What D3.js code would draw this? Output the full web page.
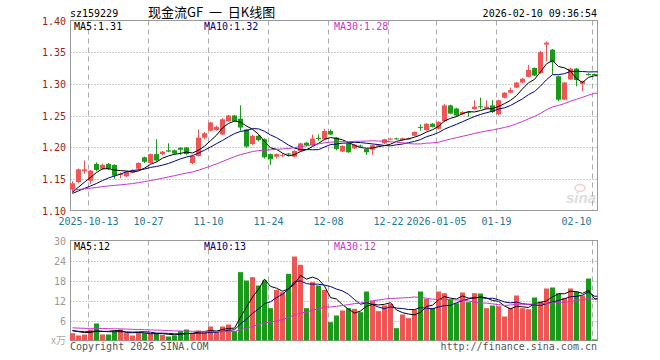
<!DOCTYPE html>
<html>
<head>
<meta charset="utf-8">
<script src="https://cdn.jsdelivr.net/npm/d3@7"></script>
<style>
body { margin: 0; background: #fff; }
svg text { font-family: "DejaVu Sans Mono", monospace; font-size: 10px; }
</style>
</head>
<body>
<svg id="chart" width="660" height="360"></svg>
<script>
// trading days shown (one candle each)
const dates = ["2025-09-30", "2025-10-09", "2025-10-10",
    "2025-10-13", "2025-10-14", "2025-10-15", "2025-10-16", "2025-10-17",
    "2025-10-20", "2025-10-21", "2025-10-22", "2025-10-23", "2025-10-24",
    "2025-10-27", "2025-10-28", "2025-10-29", "2025-10-30", "2025-10-31",
    "2025-11-03", "2025-11-04", "2025-11-05", "2025-11-06", "2025-11-07",
    "2025-11-10", "2025-11-11", "2025-11-12", "2025-11-13", "2025-11-14",
    "2025-11-17", "2025-11-18", "2025-11-19", "2025-11-20", "2025-11-21",
    "2025-11-24", "2025-11-25", "2025-11-26", "2025-11-27", "2025-11-28",
    "2025-12-01", "2025-12-02", "2025-12-03", "2025-12-04", "2025-12-05",
    "2025-12-08", "2025-12-09", "2025-12-10", "2025-12-11", "2025-12-12",
    "2025-12-15", "2025-12-16", "2025-12-17", "2025-12-18", "2025-12-19",
    "2025-12-22", "2025-12-23", "2025-12-24", "2025-12-25", "2025-12-26",
    "2025-12-29", "2025-12-30", "2025-12-31",
    "2026-01-05", "2026-01-06", "2026-01-07", "2026-01-08", "2026-01-09",
    "2026-01-12", "2026-01-13", "2026-01-14", "2026-01-15", "2026-01-16",
    "2026-01-19", "2026-01-20", "2026-01-21", "2026-01-22", "2026-01-23",
    "2026-01-26", "2026-01-27", "2026-01-28", "2026-01-29", "2026-01-30",
    "2026-02-02", "2026-02-03", "2026-02-04", "2026-02-05", "2026-02-06",
    "2026-02-09", "2026-02-10"]

const open = [1.133, 1.145, 1.162, 1.147, 1.1735, 1.166, 1.1735, 1.172, 1.156, 1.154,
    1.160, 1.166, 1.184, 1.175, 1.189, 1.189, 1.195, 1.195, 1.199, 1.1995,
    1.175, 1.186, 1.215, 1.226, 1.227, 1.220, 1.241, 1.250, 1.245, 1.228,
    1.205, 1.218, 1.2125, 1.189, 1.185, 1.187, 1.190, 1.185, 1.194, 1.207,
    1.203, 1.2145, 1.2125, 1.2255, 1.215, 1.193, 1.206, 1.198, 1.2025, 1.197,
    1.196, 1.2025, 1.206, 1.213, 1.2138, 1.2115, 1.213, 1.218, 1.232, 1.227,
    1.237, 1.229, 1.241, 1.266, 1.261, 1.252, 1.256, 1.260, 1.2645, 1.261,
    1.266, 1.252, 1.278, 1.286, 1.294, 1.302, 1.311, 1.325, 1.317, 1.362,
    1.354, 1.312, 1.275, 1.307, 1.324, 1.300, 1.3155, 1.3155]

const high = [1.146, 1.166, 1.179, 1.164, 1.176, 1.174, 1.175, 1.173, 1.160, 1.162,
    1.165, 1.176, 1.185, 1.190, 1.2125, 1.194, 1.206, 1.196, 1.200, 1.200,
    1.188, 1.228, 1.224, 1.240, 1.234, 1.246, 1.251, 1.251, 1.266, 1.229,
    1.220, 1.219, 1.214, 1.190, 1.190, 1.190, 1.191, 1.195, 1.207, 1.208,
    1.220, 1.220, 1.229, 1.228, 1.216, 1.203, 1.207, 1.205, 1.204, 1.198,
    1.204, 1.205, 1.213, 1.215, 1.215, 1.215, 1.215, 1.225, 1.236, 1.238,
    1.238, 1.241, 1.268, 1.267, 1.262, 1.257, 1.257, 1.274, 1.278, 1.274,
    1.274, 1.275, 1.287, 1.294, 1.303, 1.309, 1.330, 1.326, 1.352, 1.367,
    1.355, 1.313, 1.303, 1.325, 1.325, 1.305, 1.317, 1.316]

const low = [1.128, 1.143, 1.158, 1.142, 1.162, 1.164, 1.164, 1.150, 1.151, 1.153,
    1.159, 1.164, 1.175, 1.174, 1.177, 1.187, 1.192, 1.188, 1.188, 1.188,
    1.173, 1.185, 1.213, 1.225, 1.226, 1.219, 1.240, 1.240, 1.226, 1.199,
    1.203, 1.209, 1.182, 1.172, 1.182, 1.184, 1.186, 1.184, 1.193, 1.201,
    1.202, 1.210, 1.211, 1.219, 1.195, 1.192, 1.191, 1.197, 1.200, 1.188,
    1.188, 1.201, 1.205, 1.211, 1.212, 1.210, 1.212, 1.217, 1.226, 1.226,
    1.231, 1.228, 1.240, 1.252, 1.248, 1.251, 1.248, 1.259, 1.260, 1.260,
    1.254, 1.250, 1.277, 1.285, 1.293, 1.301, 1.310, 1.312, 1.316, 1.336,
    1.315, 1.273, 1.274, 1.306, 1.296, 1.288, 1.313, 1.314]

const close = [1.143, 1.165, 1.165, 1.163, 1.164, 1.172, 1.166, 1.155, 1.158, 1.161,
    1.163, 1.175, 1.177, 1.189, 1.179, 1.193, 1.193, 1.190, 1.196, 1.189,
    1.186, 1.215, 1.222, 1.239, 1.232, 1.244, 1.250, 1.241, 1.231, 1.201,
    1.218, 1.211, 1.184, 1.181, 1.189, 1.188, 1.189, 1.194, 1.206, 1.203,
    1.2135, 1.2135, 1.2255, 1.220, 1.197, 1.202, 1.192, 1.204, 1.202, 1.192,
    1.203, 1.203, 1.2125, 1.2135, 1.2135, 1.214, 1.2135, 1.224, 1.231, 1.237,
    1.232, 1.240, 1.266, 1.253, 1.250, 1.2555, 1.2555, 1.264, 1.264, 1.264,
    1.2555, 1.274, 1.286, 1.290, 1.302, 1.308, 1.322, 1.313, 1.350, 1.365,
    1.334, 1.275, 1.302, 1.324, 1.306, 1.304, 1.315, 1.315]

// volume in 万 (10k lots)
const volume = [2.2, 1.5, 1.8, 3.3, 5.1, 1.8, 1.8, 2.8, 3.3, 2.2,
    1.5, 2.3, 2.2, 2.0, 2.2, 1.7, 1.2, 1.5, 2.8, 3.3,
    2.0, 3.0, 2.5, 4.2, 2.5, 4.2, 4.8, 2.8, 20.5, 18.0,
    19.0, 16.5, 18.0, 9.7, 15.2, 14.5, 20.0, 25.2, 22.7, 9.7,
    17.5, 16.5, 15.2, 5.5, 7.5, 9.0, 9.7, 9.5, 8.5, 14.7,
    11.8, 8.8, 10.5, 11.0, 3.7, 7.8, 6.7, 9.3, 14.7, 12.5,
    9.8, 14.7, 14.2, 12.3, 11.2, 14.4, 11.5, 14.2, 14.1, 9.7,
    10.5, 10.3, 7.2, 9.8, 13.5, 9.7, 9.4, 12.9, 11.7, 15.6,
    15.9, 14.1, 12.8, 15.6, 14.7, 13.5, 18.6, 0.3]

// moving average values read at the left edge (history before first candle)
const priceMaStart = [1.129, 1.127, 1.132]
const volMaStart = [3.0, 2.9, 3.8]
const maPeriods = [5, 10, 30]
const maColors = ['#000000', '#000080', '#cc33cc']

const priceTicks = [1.10, 1.15, 1.20, 1.25, 1.30, 1.35, 1.40]
const volTicks = [6, 12, 18, 24, 30]
const tickDates = ["2025-10-13", "2025-10-27", "2025-11-10", "2025-11-24", "2025-12-08",
    "2025-12-22", "2026-01-05", "2026-01-19", "2026-02-10"]
const tickLabels = ["2025-10-13", "10-27", "11-10", "11-24", "12-08",
    "12-22", "2026-01-05", "01-19", "02-10"]

const upColor = '#ee5555'
const downColor = '#1a9a1a'

const svg = d3.select('#chart')

const xScale = d3.scaleBand().domain(dates).range([69.5, 597.5]).padding(0)
const yPrice = d3.scaleLinear().domain([1.10, 1.40]).range([210.5, 20.5])
const yVol = d3.scaleLinear().domain([0, 30]).range([340.5, 240.5])
const left = 70.5, right = 597.5

function center(d) { return xScale(d) + 3 }

// moving average, the part before the first candle uses the start value
function movingAvg(values, n, startVal) {
    const seed = (n * startVal - values[0]) / (n - 1)
    return values.map((v, i) => {
        let sum = 0
        for (let k = i - n + 1; k <= i; k++) sum += k < 0 ? seed : values[k]
        return sum / n
    })
}

function drawPanel(yScale, ticks, top, bottom) {
    // horizontal dotted gridlines
    svg.append('g').selectAll('line')
        .data(ticks.filter(t => yScale(t) > top + 1 && yScale(t) < bottom - 1))
        .join('line')
        .attr('x1', left).attr('x2', right)
        .attr('y1', d => Math.round(yScale(d)) + 0.5)
        .attr('y2', d => Math.round(yScale(d)) + 0.5)
        .attr('stroke', '#999').attr('stroke-dasharray', '1,2')

    // vertical dashed gridlines
    svg.append('g').selectAll('line')
        .data(tickDates)
        .join('line')
        .attr('x1', d => xScale(d) + 1).attr('x2', d => xScale(d) + 1)
        .attr('y1', top).attr('y2', bottom)
        .attr('stroke', '#aaa').attr('stroke-dasharray', '5,4')

    svg.append('rect')
        .attr('x', left).attr('y', top)
        .attr('width', right - left).attr('height', bottom - top)
        .attr('fill', 'none').attr('stroke', '#999')
}

drawPanel(yPrice, priceTicks, 20.5, 210.5)
drawPanel(yVol, volTicks, 240.5, 340.5)

// watermark
const logo = svg.append('g').attr('opacity', 0.5)
logo.append('ellipse').attr('cx', 580).attr('cy', 188).attr('rx', 5).attr('ry', 3.5)
    .attr('fill', 'none').attr('stroke', '#e8a0a0').attr('stroke-width', 1.5)
logo.append('text').attr('x', 566).attr('y', 203)
    .style('font-family', 'Liberation Sans, sans-serif').style('font-size', '15px')
    .style('font-style', 'italic').style('font-weight', 'bold')
    .attr('fill', '#bbb').text('sina')

const rows = dates.map((d, i) => ({
    date: d, o: open[i], h: high[i], l: low[i], c: close[i], v: volume[i],
    up: close[i] >= open[i]
}))

// candles
const candles = svg.append('g')
candles.selectAll('line')
    .data(rows)
    .join('line')
    .attr('x1', d => center(d.date)).attr('x2', d => center(d.date))
    .attr('y1', d => yPrice(d.h)).attr('y2', d => yPrice(d.l))
    .attr('stroke', d => d.up ? upColor : downColor)

candles.selectAll('rect')
    .data(rows)
    .join('rect')
    .attr('x', d => xScale(d.date) + 0.5)
    .attr('width', 5)
    .attr('y', d => yPrice(Math.max(d.o, d.c)))
    .attr('height', d => Math.max(1, Math.abs(yPrice(d.o) - yPrice(d.c))))
    .attr('fill', d => d.up ? upColor : downColor)

// volume bars
svg.append('g').selectAll('rect')
    .data(rows)
    .join('rect')
    .attr('x', d => xScale(d.date) + 0.5)
    .attr('width', 5)
    .attr('y', d => yVol(d.v))
    .attr('height', d => yVol(0) - yVol(d.v))
    .attr('fill', d => d.up ? upColor : downColor)

// moving average lines
function drawMa(values, starts, yScale) {
    maPeriods.forEach((n, k) => {
        const ma = movingAvg(values, n, starts[k])
        const pts = ma.map((m, i) => [center(dates[i]), yScale(m)])
        pts.push([right, yScale(ma[ma.length - 1])])
        svg.append('path')
            .attr('d', d3.line()(pts))
            .attr('fill', 'none')
            .attr('stroke', maColors[k])
            .attr('stroke-width', 1)
    })
}
drawMa(close, priceMaStart, yPrice)
drawMa(volume, volMaStart, yVol)

// MA legends
function legend(y, texts) {
    svg.append('g').selectAll('text')
        .data(texts)
        .join('text')
        .attr('x', (d, i) => 74 + i * 130)
        .attr('y', y)
        .attr('fill', (d, i) => maColors[i])
        .text(d => d)
}
legend(30, ['MA5:1.31', 'MA10:1.32', 'MA30:1.28'])
legend(250, ['MA5:12', 'MA10:13', 'MA30:12'])

// price axis labels
svg.append('g').selectAll('text')
    .data(priceTicks)
    .join('text')
    .attr('x', 66).attr('y', d => yPrice(d) + 4)
    .attr('text-anchor', 'end')
    .attr('fill', '#a01c1c')
    .text(d => d.toFixed(2))

// volume axis labels
svg.append('g').selectAll('text')
    .data(volTicks)
    .join('text')
    .attr('x', 66).attr('y', d => yVol(d) + 4)
    .attr('text-anchor', 'end')
    .attr('fill', '#999')
    .text(d => d)

svg.append('text').attr('x', 66).attr('y', 344)
    .attr('text-anchor', 'end').attr('fill', '#aaa')
    .style('font-family', 'Noto Sans CJK SC, sans-serif').style('font-size', '10px')
    .text('x万')

// date labels
svg.append('g').selectAll('text')
    .data(tickDates)
    .join('text')
    .attr('x', (d, i) => i == tickDates.length - 1 ? xScale(d) : xScale(d) + 1)
    .attr('y', 225)
    .attr('text-anchor', (d, i) => i == tickDates.length - 1 ? 'end' : 'middle')
    .attr('fill', '#1e7896')
    .text((d, i) => tickLabels[i])

// header
svg.append('text').attr('x', 70).attr('y', 17).attr('fill', '#000').text('sz159229')
svg.append('text').attr('x', 148).attr('y', 17).attr('fill', '#000')
    .style('font-family', 'Noto Sans CJK SC, sans-serif').style('font-size', '13px')
    .style('white-space', 'pre')
    .text('现金流GF  一  日K线图')
svg.append('text').attr('x', 597).attr('y', 17).attr('text-anchor', 'end')
    .attr('fill', '#000').text('2026-02-10 09:36:54')

// footer
svg.append('text').attr('x', 70).attr('y', 350).attr('fill', '#555')
    .text('Copyright 2026 SINA.COM')
svg.append('text').attr('x', 597).attr('y', 350).attr('text-anchor', 'end')
    .attr('fill', '#555').text('http://finance.sina.com.cn')
</script>
</body>
</html>
